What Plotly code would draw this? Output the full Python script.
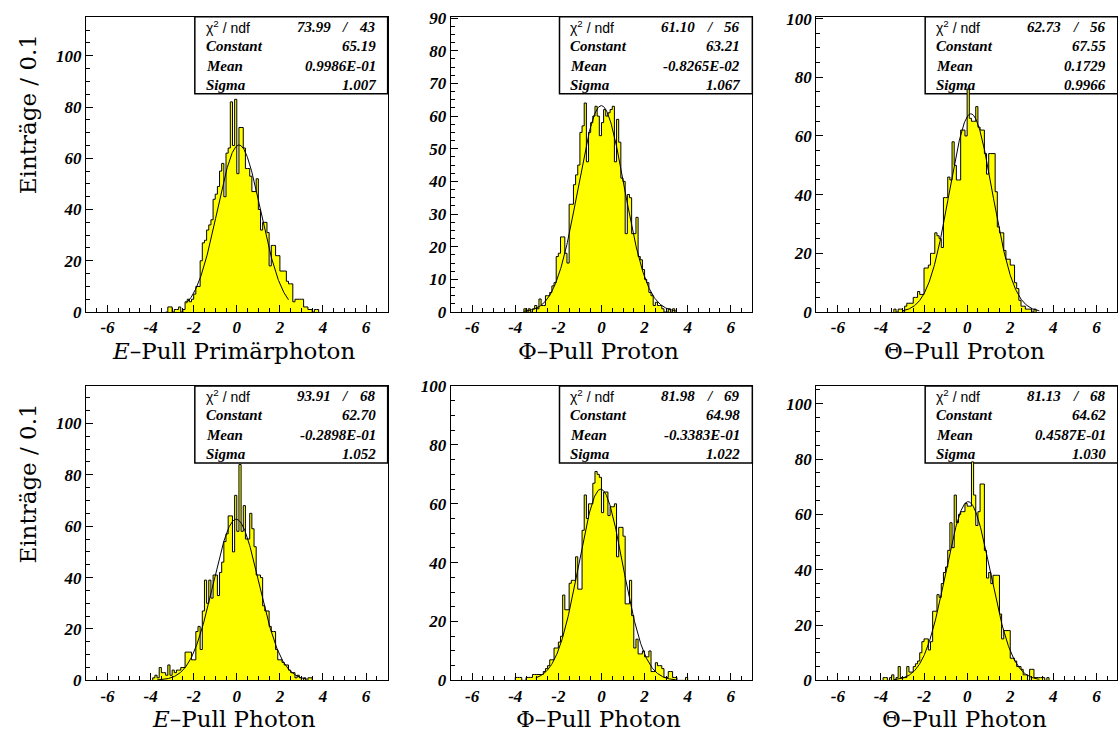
import numpy as np
import plotly.graph_objects as go

# ---------------- data (bin width 0.1) ----------------
BIN = 0.1

p1_start = -3.3
p1_counts = [0, 2, 2, 0, 1, 1, 2, 0, 1, 4, 5, 4, 5, 7, 10, 10, 20, 27, 28, 32,
             34, 36, 44, 46, 49, 55, 58, 45, 62, 64, 82, 65, 83, 54, 72, 72, 64, 56, 56, 53,
             47, 47, 52, 40, 32, 35, 35, 31, 18, 26, 26, 22, 22, 16, 16, 16, 12, 11, 11, 4,
             5, 5, 5, 5, 2, 2, 1, 1, 0, 1, 1]

p2_start = -3.6
p2_counts = [1, 0, 1, 0, 1, 2, 1, 4, 2, 2, 5, 5, 6, 8, 9, 17, 18, 23, 23, 18,
             15, 33, 33, 39, 42, 45, 55, 57, 64, 46, 55, 58, 60, 63, 60, 54, 58, 62, 60, 61,
             62, 63, 46, 59, 52, 41, 40, 24, 36, 35, 24, 24, 29, 17, 16, 13, 10, 9, 6, 5,
             2, 3, 2, 2, 1, 0, 0, 1, 0, 1]

p3_start = -3.4
p3_counts = [1, 0, 1, 1, 0, 2, 3, 3, 3, 5, 5, 7, 6, 6, 15, 15, 16, 20, 20, 27,
             26, 25, 22, 39, 39, 46, 45, 58, 50, 45, 45, 62, 62, 60, 76, 66, 65, 65, 70, 63,
             62, 62, 54, 47, 54, 54, 54, 41, 29, 27, 27, 21, 18, 18, 16, 16, 10, 8, 4, 2,
             2, 1, 1, 1, 0, 1]

p4_start = -3.9
p4_counts = [1, 2, 1, 5, 3, 3, 2, 6, 2, 4, 3, 4, 4, 5, 5, 11, 11, 11, 8, 8,
             19, 21, 12, 27, 39, 30, 39, 32, 41, 41, 33, 42, 46, 54, 57, 64, 64, 50, 72, 58,
             84, 58, 68, 55, 55, 65, 59, 52, 41, 41, 40, 29, 27, 27, 21, 19, 19, 12, 8, 8,
             7, 6, 6, 4, 3, 3, 1, 2, 1, 0, 1, 0, 1, 1]

p5_start = -4.0
p5_counts = [1, 1, 1, 0, 0, 1, 1, 1, 2, 2, 2, 2, 2, 3, 4, 5, 7, 7, 11, 11,
             13, 15, 29, 24, 24, 33, 34, 34, 42, 31, 31, 51, 63, 55, 60, 60, 67, 71, 70, 69,
             57, 64, 64, 56, 59, 59, 60, 42, 52, 52, 49, 26, 26, 34, 22, 11, 14, 9, 9, 10,
             8, 8, 10, 3, 3, 6, 5, 5, 4, 1, 1, 3, 3, 1, 1, 0, 0, 0, 0, 1]

p6_start = -3.9
p6_counts = [1, 1, 0, 1, 2, 0, 1, 5, 1, 1, 1, 5, 3, 3, 5, 6, 7, 10, 14, 15,
             15, 11, 14, 25, 25, 31, 30, 35, 39, 41, 47, 57, 48, 67, 57, 60, 61, 61, 64, 63,
             63, 79, 67, 56, 61, 71, 71, 47, 37, 39, 35, 38, 38, 38, 24, 15, 18, 18, 18, 8,
             8, 7, 5, 5, 4, 2, 2, 0, 4, 4, 1, 1, 1, 1, 1, 0, 1]

# fit results shown in the stat boxes
chi2_txt = ["73.99", "61.10", "62.73", "93.91", "81.98", "81.13"]
ndf_txt = ["43", "56", "56", "68", "69", "68"]
const_txt = ["65.19", "63.21", "67.55", "62.70", "64.98", "64.62"]
mean_txt = ["0.9986E-01", "-0.8265E-02", "0.1729", "-0.2898E-01", "-0.3383E-01", "0.4587E-01"]
sigma_txt = ["1.007", "1.067", "0.9966", "1.052", "1.022", "1.030"]
fit_ranges = [(-2.35, 2.4), (-3.6, 3.5), (-3.0, 3.35), (-3.7, 3.25), (-3.05, 3.45), (-3.4, 3.35)]

x_titles = ["<i>E</i>\u2013Pull Primärphoton", "\u03a6\u2013Pull Proton", "\u0398\u2013Pull Proton",
            "<i>E</i>\u2013Pull Photon", "\u03a6\u2013Pull Photon", "\u0398\u2013Pull Photon"]
y_title = "Einträge / 0.1"
x_tick_vals = [-6, -4, -2, 0, 2, 4, 6]
y_max = [115.2, 90.4, 100.6, 114.5, 100.0, 106.4]
y_dtick = [20, 10, 20, 20, 20, 20]
y_minor = [5, 2.5, 5, 5, 5, 5]

starts = [p1_start, p2_start, p3_start, p4_start, p5_start, p6_start]
counts = [p1_counts, p2_counts, p3_counts, p4_counts, p5_counts, p6_counts]

# ---------------- layout geometry (pixels) ----------------
W, H = 1118, 743
col_left = [86, 451, 817]
panel_w = 302
row_top = [8, 387]
row_bot = [311, 689]


def fx(px):
    return px / W


def fy(py):
    return 1 - py / H


def bi(s):
    return f"<b><i>{s}</i></b>"


tick_font = dict(family="Liberation Serif", size=17, color="black")
title_font = dict(family="DejaVu Serif", size=23, color="black")
stat_font = dict(family="Liberation Serif", size=15, color="black")
chi_font = dict(family="Liberation Sans", size=14, color="black")

fig = go.Figure()
layout = dict(width=W, height=H, margin=dict(l=0, r=0, t=0, b=0),
              paper_bgcolor="white", plot_bgcolor="white", showlegend=False)
shapes = []
annotations = []

for i in range(6):
    r, c = divmod(i, 3)
    L = col_left[c]
    R = min(L + panel_w, W)
    T, B = row_top[r], row_bot[r]
    xs = "x" if i == 0 else f"x{i+1}"
    ys = "y" if i == 0 else f"y{i+1}"
    xk = "xaxis" if i == 0 else f"xaxis{i+1}"
    yk = "yaxis" if i == 0 else f"yaxis{i+1}"
    xr_right = -7 + (R - L) / panel_w * 14

    vals = counts[i]
    n = len(vals)
    edges = [round(starts[i] + k * BIN, 4) for k in range(n + 1)]
    sx = [edges[0]] + edges
    sy = [0] + list(vals) + [0]
    fig.add_trace(go.Scatter(x=sx, y=sy, mode="lines", line_shape="hv",
                             line=dict(color="black", width=1), fill="tozeroy",
                             fillcolor="#ffff00", xaxis=xs, yaxis=ys, hoverinfo="skip"))
    a, b = fit_ranges[i]
    gx = np.linspace(a, b, 300)
    cst, mu, sg = float(const_txt[i]), float(mean_txt[i]), float(sigma_txt[i])
    gy = cst * np.exp(-0.5 * ((gx - mu) / sg) ** 2)
    fig.add_trace(go.Scatter(x=gx, y=gy, mode="lines", line=dict(color="black", width=1),
                             xaxis=xs, yaxis=ys, hoverinfo="skip"))

    yv = list(np.arange(0, y_max[i] + 1e-9, y_dtick[i]))
    yv = [int(v) for v in yv]
    layout[xk] = dict(domain=[fx(L), fx(R)], range=[-7, xr_right], anchor=ys,
                      tickmode="array", tickvals=x_tick_vals,
                      ticktext=[bi(v) for v in x_tick_vals],
                      ticks="inside", ticklen=7, tickcolor="black",
                      minor=dict(dtick=0.5, tick0=0, ticks="inside", ticklen=4, tickcolor="black"),
                      showline=True, linecolor="black", linewidth=1, mirror=True,
                      showgrid=False, zeroline=False, tickfont=tick_font)
    layout[yk] = dict(domain=[fy(B), fy(T)], range=[0, y_max[i]], anchor=xs,
                      tickmode="array", tickvals=yv, ticktext=[bi(v) for v in yv],
                      ticks="inside", ticklen=7, tickcolor="black",
                      minor=dict(dtick=y_minor[i], tick0=0, ticks="inside", ticklen=4,
                                 tickcolor="black"),
                      showline=True, linecolor="black", linewidth=1, mirror=True,
                      showgrid=False, zeroline=False, tickfont=tick_font)

    # stat box
    bx0, bx1 = L + panel_w - 193, L + panel_w
    by0, by1 = T, T + 79
    shapes.append(dict(type="rect", xref="paper", yref="paper", x0=fx(bx0), x1=fx(bx1),
                       y0=fy(by1), y1=fy(by0), line=dict(color="black", width=1.5),
                       fillcolor="white", layer="below"))
    rows_y = [T + 10, T + 30, T + 50, T + 70]
    lab_x = bx0 + 9
    val_x = bx1 - 10
    annotations.append(dict(x=fx(lab_x), y=fy(rows_y[0]), xref="paper", yref="paper",
                            text="\u03c7<sup>2</sup> / ndf", showarrow=False, xanchor="left",
                            yanchor="middle", font=chi_font))
    annotations.append(dict(x=fx(val_x - 45), y=fy(rows_y[0]), xref="paper", yref="paper",
                            text=bi(chi2_txt[i]), showarrow=False, xanchor="right",
                            yanchor="middle", font=stat_font))
    annotations.append(dict(x=fx(val_x - 32), y=fy(rows_y[0]), xref="paper", yref="paper",
                            text=bi("/"), showarrow=False, xanchor="center", yanchor="middle",
                            font=stat_font))
    annotations.append(dict(x=fx(val_x), y=fy(rows_y[0]), xref="paper", yref="paper",
                            text=bi(ndf_txt[i]), showarrow=False, xanchor="right",
                            yanchor="middle", font=stat_font))
    for lab, val, yy in zip(["Constant", "Mean", "Sigma"],
                            [const_txt[i], mean_txt[i], sigma_txt[i]], rows_y[1:]):
        annotations.append(dict(x=fx(lab_x), y=fy(yy), xref="paper", yref="paper", text=bi(lab),
                                showarrow=False, xanchor="left", yanchor="middle", font=stat_font))
        annotations.append(dict(x=fx(val_x), y=fy(yy), xref="paper", yref="paper", text=bi(val),
                                showarrow=False, xanchor="right", yanchor="middle", font=stat_font))

    # x title
    annotations.append(dict(x=fx(L + panel_w / 2 - 3), y=fy(B + 40), xref="paper", yref="paper",
                            text=x_titles[i], showarrow=False, xanchor="center", yanchor="middle",
                            font=title_font))
    if c == 0:
        annotations.append(dict(x=fx(28), y=fy(T + 100), xref="paper", yref="paper",
                                text=y_title, showarrow=False, textangle=-90,
                                xanchor="center", yanchor="middle", font=title_font))

layout["shapes"] = shapes
layout["annotations"] = annotations
fig.update_layout(**layout)
fig.write_html("out.html")
